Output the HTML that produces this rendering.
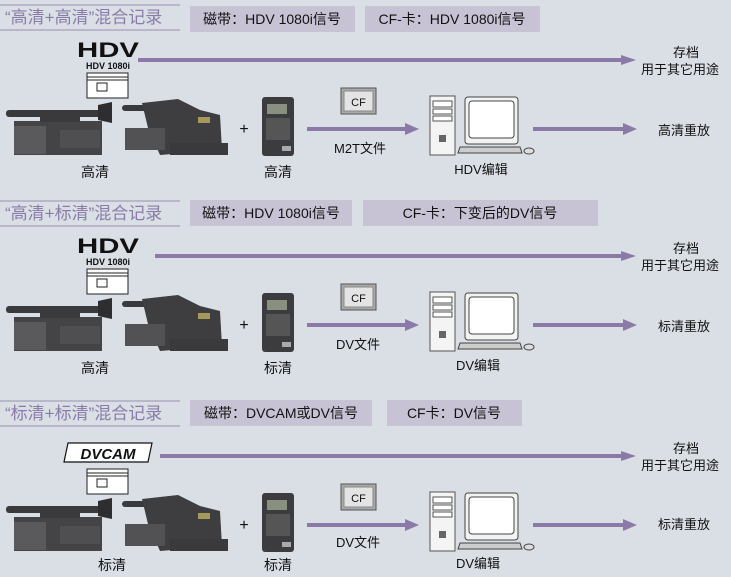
<!DOCTYPE html>
<html><head><meta charset="utf-8"><style>
html,body{margin:0;padding:0;background:#d9dfe5;}
svg{display:block;font-family:"Liberation Sans","Noto Sans CJK SC",sans-serif;}
</style></head><body>
<svg width="731" height="577" viewBox="0 0 731 577" xmlns="http://www.w3.org/2000/svg">
<defs>
<g id="cam1">
  <rect x="6" y="110" width="98" height="7" rx="3" fill="#3a3a3c"/>
  <path d="M98 105 L112 102 L112 123 L98 120Z" fill="#2e2e30"/>
  <rect x="14" y="121" width="88" height="34" fill="#444446"/>
  <rect x="14" y="126" width="32" height="28" fill="#5a5a5c"/>
  <rect x="60" y="130" width="40" height="18" fill="#4f4f51"/>
  <rect x="40" y="114" width="40" height="8" fill="#3a3a3c"/>
</g>
<g id="cam2">
  <rect x="122" y="105" width="30" height="6" rx="3" fill="#3a3a3c"/>
  <path d="M142 103 L178 99 L200 110 L220 115 L222 150 L160 155 L148 128Z" fill="#3e3e40"/>
  <rect x="125" y="128" width="40" height="22" fill="#525254"/>
  <rect x="198" y="117" width="12" height="6" fill="#a69a5a"/>
  <rect x="170" y="143" width="58" height="12" fill="#3a3a3c"/>
</g>
<g id="rec">
  <rect x="262" y="97" width="32" height="59" rx="3" fill="#3c3c3e"/>
  <rect x="267" y="104" width="20" height="10" fill="#8a9080"/>
  <rect x="266" y="118" width="24" height="22" fill="#555"/>
  <rect x="282" y="146" width="9" height="5" fill="#aaa"/>
</g>
<g id="tape">
  <rect x="87" y="73" width="41" height="25" fill="#fff" stroke="#222" stroke-width="1"/>
  <line x1="87" y1="77" x2="128" y2="77" stroke="#222"/>
  <line x1="87" y1="80" x2="128" y2="80" stroke="#222"/>
  <rect x="97" y="83" width="10" height="8" fill="#fff" stroke="#222"/>
</g>
<g id="cf">
  <rect x="341" y="88" width="35" height="26" fill="#aaa" stroke="#555"/>
  <rect x="344" y="91" width="29" height="20" fill="#e4e4e4" stroke="#888"/>
  <text x="358.5" y="106" font-size="11" text-anchor="middle" fill="#111">CF</text>
</g>
<g id="pc">
  <rect x="430" y="96" width="25" height="59" fill="#f4f4f4" stroke="#555"/>
  <rect x="433" y="101" width="19" height="6" fill="#fff" stroke="#555"/>
  <rect x="433" y="109" width="19" height="5" fill="#fff" stroke="#555"/>
  <rect x="433" y="116" width="19" height="5" fill="#fff" stroke="#555"/>
  <rect x="439" y="135" width="7" height="7" fill="#666"/>
  <rect x="465" y="97" width="53" height="47" rx="3" fill="#f2f2f2" stroke="#444"/>
  <rect x="469" y="101" width="45" height="37" rx="3" fill="#fff" stroke="#444"/>
  <path d="M460 147 L520 147 L522 153 L458 153Z" fill="#ccc" stroke="#444"/>
  <ellipse cx="529" cy="151" rx="5" ry="3" fill="#ddd" stroke="#444"/>
</g>
<g id="arrows" fill="#8b7aa8">
  <rect x="307" y="127" width="100" height="4"/><path d="M405 123 L419 129 L405 135Z"/>
  <rect x="533" y="127" width="92" height="4"/><path d="M623 123 L637 129 L623 135Z"/>
  <path d="M621 55 L636 60 L621 65Z"/>
</g>
<g id="hdv">
  <text x="77" y="57" font-size="21" font-weight="bold" fill="#111" textLength="62" lengthAdjust="spacingAndGlyphs">HDV</text>
  <text x="108" y="69" font-size="9" font-weight="bold" text-anchor="middle" fill="#111">HDV 1080i</text>
</g>
<g id="common">
  <line x1="0" y1="5" x2="180" y2="5" stroke="#9a8fb4"/>
  <line x1="0" y1="30" x2="180" y2="30" stroke="#9a8fb4"/>
  <use href="#tape"/><use href="#cam1"/><use href="#cam2"/><use href="#rec"/>
  <text x="244" y="134" font-size="16" text-anchor="middle" fill="#111">+</text>
  <use href="#cf"/><use href="#pc"/><use href="#arrows"/>
  <text x="686" y="57" font-size="13" text-anchor="middle" fill="#111">存档</text>
  <text x="680" y="74" font-size="13" text-anchor="middle" fill="#111">用于其它用途</text>
</g>
</defs>

<g>
  <use href="#common"/>
  <text x="5" y="23" font-size="17" fill="#8a7ca8">“高清+高清”混合记录</text>
  <rect x="190" y="6" width="165" height="26" fill="#c8c2d5"/>
  <text x="272" y="24" font-size="14" text-anchor="middle" fill="#111">磁带：HDV 1080i信号</text>
  <rect x="365" y="6" width="175" height="26" fill="#c8c2d5"/>
  <text x="452" y="24" font-size="14" text-anchor="middle" fill="#111">CF-卡：HDV 1080i信号</text>
  <use href="#hdv"/>
  <rect x="138" y="58" width="485" height="4" fill="#8b7aa8"/>
  <text x="95" y="177" font-size="14" text-anchor="middle" fill="#111">高清</text>
  <text x="278" y="177" font-size="14" text-anchor="middle" fill="#111">高清</text>
  <text x="360" y="153" font-size="13" text-anchor="middle" fill="#111">M2T文件</text>
  <text x="481" y="174" font-size="13" text-anchor="middle" fill="#111">HDV编辑</text>
  <text x="684" y="135" font-size="13" text-anchor="middle" fill="#111">高清重放</text>
</g>

<g transform="translate(0,196)">
  <use href="#common"/>
  <text x="5" y="23" font-size="17" fill="#8a7ca8">“高清+标清”混合记录</text>
  <rect x="190" y="4" width="162" height="26" fill="#c8c2d5"/>
  <text x="271" y="22" font-size="14" text-anchor="middle" fill="#111">磁带：HDV 1080i信号</text>
  <rect x="363" y="4" width="235" height="26" fill="#c8c2d5"/>
  <text x="480" y="22" font-size="14" text-anchor="middle" fill="#111">CF-卡：下变后的DV信号</text>
  <use href="#hdv"/>
  <rect x="155" y="58" width="468" height="4" fill="#8b7aa8"/>
  <text x="95" y="177" font-size="14" text-anchor="middle" fill="#111">高清</text>
  <text x="278" y="177" font-size="14" text-anchor="middle" fill="#111">标清</text>
  <text x="358" y="153" font-size="13" text-anchor="middle" fill="#111">DV文件</text>
  <text x="478" y="174" font-size="13" text-anchor="middle" fill="#111">DV编辑</text>
  <text x="684" y="135" font-size="13" text-anchor="middle" fill="#111">标清重放</text>
</g>

<g transform="translate(0,396)">
  <use href="#common"/>
  <text x="5" y="23" font-size="17" fill="#8a7ca8">“标清+标清”混合记录</text>
  <rect x="190" y="4" width="182" height="26" fill="#c8c2d5"/>
  <text x="281" y="22" font-size="14" text-anchor="middle" fill="#111">磁带：DVCAM或DV信号</text>
  <rect x="387" y="4" width="135" height="26" fill="#c8c2d5"/>
  <text x="454" y="22" font-size="14" text-anchor="middle" fill="#111">CF卡：DV信号</text>
  <path d="M68 47 L152 47 L148 66 L64 66Z" fill="#fff" stroke="#111" stroke-width="1.2"/>
  <text x="108" y="63" font-size="15" font-weight="bold" font-style="italic" text-anchor="middle" fill="#111">DVCAM</text>
  <rect x="160" y="58" width="463" height="4" fill="#8b7aa8"/>
  <text x="112" y="174" font-size="14" text-anchor="middle" fill="#111">标清</text>
  <text x="278" y="174" font-size="14" text-anchor="middle" fill="#111">标清</text>
  <text x="358" y="151" font-size="13" text-anchor="middle" fill="#111">DV文件</text>
  <text x="478" y="172" font-size="13" text-anchor="middle" fill="#111">DV编辑</text>
  <text x="684" y="133" font-size="13" text-anchor="middle" fill="#111">标清重放</text>
</g>
</svg>
</body></html>
